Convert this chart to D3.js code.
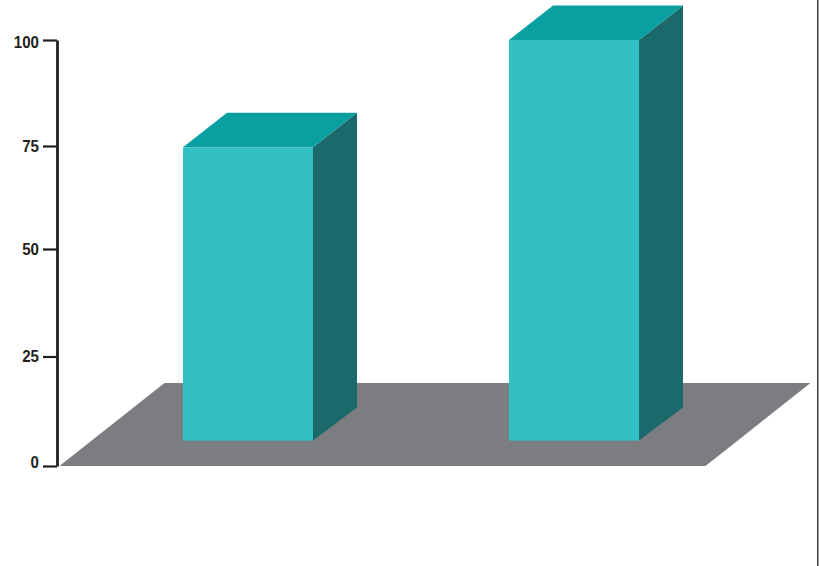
<!DOCTYPE html>
<html>
<head>
<meta charset="utf-8">
<script src="https://cdn.jsdelivr.net/npm/d3@7"></script>
<style>
  html, body { margin: 0; padding: 0; background: #fff; }
  svg { display: block; }
  text { font-family: "Liberation Sans", Arial, sans-serif; font-weight: 700; font-size: 17px; fill: #231f20; }
</style>
</head>
<body>
<svg id="chart" width="820" height="566"></svg>
<script>
// Chart values
const categories = ["A", "B"];
const barValues = [74.7, 100];
const tickValues = [0, 25, 50, 75, 100];
const tickLabels = ["0", "25", "50", "75", "100"];
const floorValue = 5.8; // level of the bars' front feet on the value scale

const colors = { front: "#32c0c5", top: "#0aa0a1", side: "#1b696b", floor: "#7c7d80", ink: "#231f20" };

const svg = d3.select("#chart");

// The printed axis has slightly uneven tick spacing, so the scale is piecewise
const y = d3.scaleLinear().domain(tickValues).range([466, 356.5, 249, 146, 40]);
const x = d3.scaleBand().domain(categories).range([183, 639]).paddingInner(196 / 326).paddingOuter(0);

// Oblique projection: how far the receding edges travel
const barDepth = { dx: 44, dyTop: -34.5, dyFoot: -33 };
const floorDepth = { dx: 105, dy: -83 };
const floorX = d3.scaleLinear().domain([0, 1]).range([59.5, 705.5]);

// Hand-set vertical nudges of the tick labels, in axis order
const labelNudge = [-5, -1.5, -0.7, -0.5, 1.5];
const digitWidth = 8.4; // condensed digit advance for the axis numerals

const poly = pts => d3.line()(pts) + "Z";

// Floor plane
svg.append("path")
  .attr("d", poly([
    [floorX(0), y(0)],
    [floorX(1), y(0)],
    [floorX(1) + floorDepth.dx, y(0) + floorDepth.dy],
    [floorX(0) + floorDepth.dx, y(0) + floorDepth.dy]
  ]))
  .attr("fill", colors.floor);

// Extruded bars
const bars = svg.append("g").selectAll("g")
  .data(categories.map((c, i) => ({ c, v: barValues[i] })))
  .join("g");

bars.append("path") // side face
  .attr("fill", colors.side)
  .attr("d", d => {
    const r = x(d.c) + x.bandwidth();
    return poly([[r, y(d.v)], [r + barDepth.dx, y(d.v) + barDepth.dyTop],
                 [r + barDepth.dx, y(floorValue) + barDepth.dyFoot], [r, y(floorValue)]]);
  });

bars.append("path") // top face
  .attr("fill", colors.top)
  .attr("d", d => {
    const l = x(d.c), r = l + x.bandwidth();
    return poly([[l, y(d.v)], [r, y(d.v)],
                 [r + barDepth.dx, y(d.v) + barDepth.dyTop], [l + barDepth.dx, y(d.v) + barDepth.dyTop]]);
  });

bars.append("rect") // front face
  .attr("fill", colors.front)
  .attr("x", d => x(d.c))
  .attr("y", d => y(d.v))
  .attr("width", x.bandwidth())
  .attr("height", d => y(floorValue) - y(d.v));

// Value axis
const axis = svg.append("g")
  .attr("transform", "translate(57,0)")
  .call(d3.axisLeft(y).tickValues(tickValues)
    .tickFormat((d, i) => tickLabels[i]).tickSize(14).tickPadding(4).tickSizeOuter(0));
axis.select(".domain").attr("stroke", colors.ink).attr("stroke-width", 2.8);
axis.selectAll(".tick line").attr("stroke", colors.ink).attr("stroke-width", 2.2);
axis.selectAll(".tick text")
  .attr("dy", (d, i) => 6 + labelNudge[i])
  .attr("textLength", (d, i) => tickLabels[i].length * digitWidth)
  .attr("lengthAdjust", "spacingAndGlyphs");

// Thin frame line on the right edge
svg.append("line")
  .attr("x1", 817.8).attr("x2", 817.8).attr("y1", 0).attr("y2", 566)
  .attr("stroke", colors.ink).attr("stroke-width", 1.3);
</script>
</body>
</html>
